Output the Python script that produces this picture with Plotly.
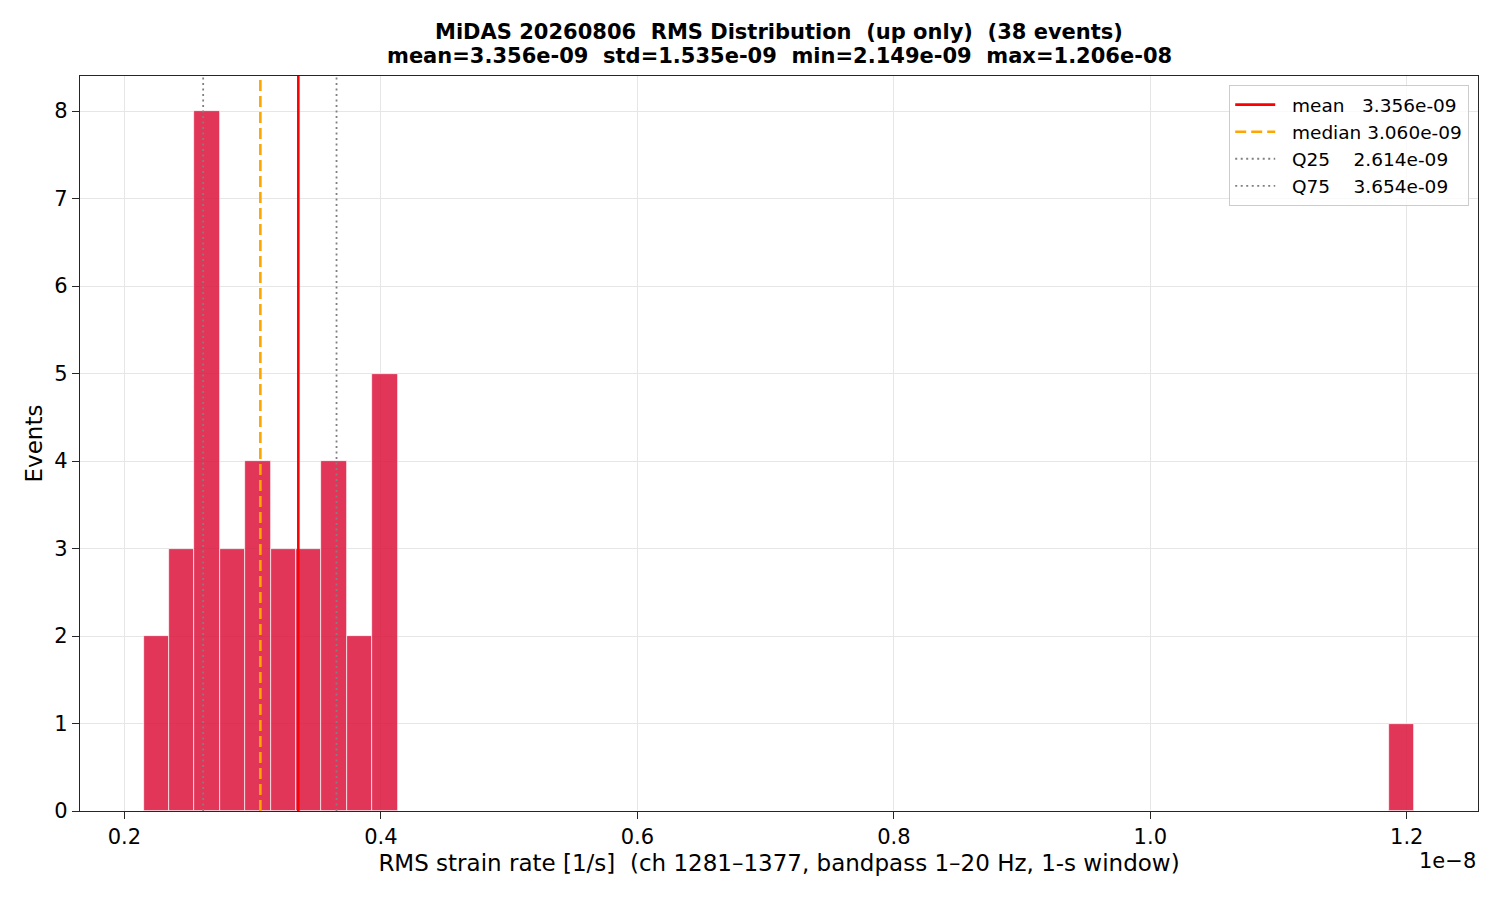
import numpy as np
import plotly.graph_objects as go

# summary stats (from the figure)
date_tag = "20260806"
n_events = 38
rms_mean = 3.356e-09
rms_std = 1.535e-09
rms_min = 2.149e-09
rms_max = 1.206e-08
rms_median = 3.060e-09
rms_q25 = 2.614e-09
rms_q75 = 3.654e-09

# histogram counts, 50 equal bins between min and max
n_bins = 50
counts = [2, 3, 8, 3, 4, 3, 3, 4, 2, 5] + [0] * 39 + [1]

tick_vals = [2e-9, 4e-9, 6e-9, 8e-9, 1e-8, 1.2e-8]
tick_text = ["0.2", "0.4", "0.6", "0.8", "1.0", "1.2"]

edges = np.linspace(rms_min, rms_max, n_bins + 1)
centers = (edges[:-1] + edges[1:]) / 2
bw = edges[1] - edges[0]
pad = 0.05 * (rms_max - rms_min)

FONT = "DejaVu Sans, Verdana, sans-serif"
NB = "\u00a0"

fig = go.Figure()
fig.add_trace(go.Bar(
    x=centers, y=counts, width=bw,
    marker=dict(color="crimson", opacity=0.85, line=dict(color="white", width=0.7)),
    showlegend=False, hoverinfo="x+y",
))

lines = [
    ("mean" + NB * 3 + f"{rms_mean:.3e}", rms_mean, "red", "solid", 2.6),
    ("median" + NB + f"{rms_median:.3e}", rms_median, "orange", "11px,5px", 2.6),
    ("Q25" + NB * 4 + f"{rms_q25:.3e}", rms_q25, "grey", "2px,3.5px", 1.8),
    ("Q75" + NB * 4 + f"{rms_q75:.3e}", rms_q75, "grey", "2px,3.5px", 1.8),
]
for name, v, col, dash, w in lines:
    fig.add_shape(type="line", x0=v, x1=v, xref="x", y0=0, y1=1, yref="paper",
                  line=dict(color=col, dash=dash, width=w), layer="above")
    # legend entry
    fig.add_trace(go.Scatter(x=[None], y=[None], mode="lines", name=NB * 2 + name,
                             line=dict(color=col, dash=dash, width=w)))

title1 = f"<b>MiDAS {date_tag}{NB}{NB}RMS Distribution{NB}{NB}(up only){NB}{NB}({n_events} events)</b>"
title2 = f"<b>mean={rms_mean:.3e}{NB}{NB}std={rms_std:.3e}{NB}{NB}min={rms_min:.3e}{NB}{NB}max={rms_max:.3e}</b>"

axis_common = dict(
    showline=True, linecolor="#262626", linewidth=1.3, mirror=True,
    ticks="outside", ticklen=7, tickwidth=1.3, tickcolor="#262626",
    showgrid=True, gridcolor="#e6e6e6", gridwidth=1, zeroline=False,
    tickfont=dict(size=21, color="black", family=FONT),
)

fig.update_layout(
    width=1500, height=900,
    paper_bgcolor="white", plot_bgcolor="white",
    font=dict(family=FONT, color="black"),
    margin=dict(l=72, r=30, t=68, b=97),
    bargap=0,
    xaxis=dict(
        range=[rms_min - pad, rms_max + pad],
        tickvals=tick_vals, ticktext=tick_text,
        title=dict(text="RMS strain rate [1/s]" + NB * 2 + "(ch 1281–1377, bandpass 1–20 Hz, 1-s window)",
                   font=dict(size=23, family=FONT), standoff=6),
        **axis_common,
    ),
    yaxis=dict(
        range=[0, 8.4], dtick=1,
        title=dict(text="Events", font=dict(size=23, family=FONT), standoff=5),
        **axis_common,
    ),
    legend=dict(
        x=0.9935, xanchor="right", y=0.988, yanchor="top",
        bgcolor="rgba(255,255,255,0.8)", bordercolor="#cccccc", borderwidth=1.3,
        font=dict(size=18.5, family=FONT, color="black"),
        tracegroupgap=0, itemwidth=40,
    ),
    annotations=[
        dict(text=title1, xref="paper", yref="paper", x=0.5, y=1.0599,
             xanchor="center", yanchor="middle", showarrow=False,
             font=dict(size=21, family=FONT, color="black")),
        dict(text=title2, xref="paper", yref="paper", x=0.5, y=1.0272,
             xanchor="center", yanchor="middle", showarrow=False,
             font=dict(size=21, family=FONT, color="black")),
        dict(text="1e\u22128", xref="paper", yref="paper", x=1.0, y=-0.049,
             xanchor="right", yanchor="top", showarrow=False,
             font=dict(size=21, family=FONT, color="black")),
    ],
)

fig.write_html("out.html")
